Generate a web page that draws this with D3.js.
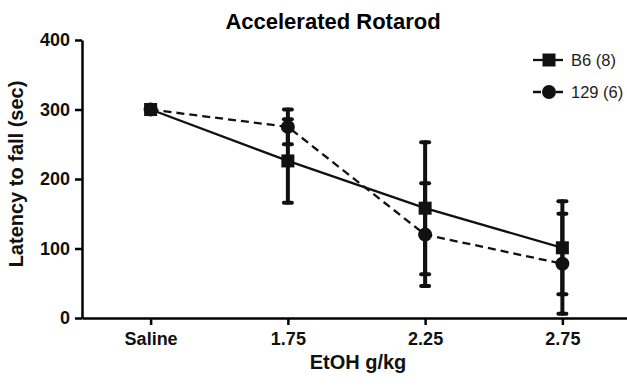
<!DOCTYPE html>
<html>
<head>
<meta charset="utf-8">
<script src="https://cdn.jsdelivr.net/npm/d3@7"></script>
<style>
  body { margin: 0; background: #fff; }
  svg { display: block; font-family: "Liberation Sans", Arial, sans-serif; }
</style>
</head>
<body>
<svg></svg>
<script>
// dose groups on the x axis
let categories = ["Saline", "1.75", "2.25", "2.75"]
let yTicks = [0, 100, 200, 300, 400]

// B6 (8) - mean latency and error
let b6Mean = [300, 226, 158, 101]
let b6Err = [0, 60, 95, 67]

// 129 (6) - mean latency and error
let s129Mean = [300, 275, 120, 78]
let s129Err = [0, 25, 74, 72]

let seriesNames = ["B6 (8)", "129 (6)"]

let svgWidth = 627, svgHeight = 386
let svg = d3.select("svg")
  .attr("width", svgWidth)
  .attr("height", svgHeight)

let x = d3.scalePoint().domain(categories).range([82, 631]).padding(0.5)
let y = d3.scaleLinear().domain([0, 400]).range([318, 40])

// title
svg.append("text")
  .attr("x", 333)
  .attr("y", 29)
  .attr("text-anchor", "middle")
  .attr("font-size", 22)
  .attr("font-weight", "bold")
  .text("Accelerated Rotarod")

// x axis
let xAxis = svg.append("g")
  .attr("transform", "translate(0," + y(0) + ")")
  .call(d3.axisBottom(x).tickSize(7).tickSizeOuter(0).tickPadding(7))
xAxis.select(".domain").attr("stroke-width", 2.5)
xAxis.selectAll(".tick line").attr("stroke-width", 2.5)
xAxis.selectAll("text")
  .attr("font-size", 18)
  .attr("font-weight", "bold")
  .attr("font-family", "Liberation Sans, Arial, sans-serif")
  .attr("fill", "#111")

// y axis
let yAxis = svg.append("g")
  .attr("transform", "translate(" + x.range()[0] + ",0)")
  .call(d3.axisLeft(y).tickValues(yTicks).tickSize(7).tickSizeOuter(0).tickPadding(5))
yAxis.select(".domain").attr("stroke-width", 2.5)
yAxis.selectAll(".tick line").attr("stroke-width", 2.5)
yAxis.selectAll("text")
  .attr("font-size", 18)
  .attr("font-weight", "bold")
  .attr("font-family", "Liberation Sans, Arial, sans-serif")
  .attr("fill", "#111")

// axis titles
svg.append("text")
  .attr("x", 358)
  .attr("y", 369)
  .attr("text-anchor", "middle")
  .attr("font-size", 20)
  .attr("font-weight", "bold")
  .attr("fill", "#111")
  .text("EtOH g/kg")

svg.append("text")
  .attr("transform", "translate(23,174) rotate(-90)")
  .attr("text-anchor", "middle")
  .attr("font-size", 20)
  .attr("font-weight", "bold")
  .attr("fill", "#111")
  .text("Latency to fall (sec)")

let line = d3.line()
  .x(function(d, i) { return x(categories[i]) })
  .y(function(d) { return y(d) })

// 129 dashed line, B6 solid line
svg.append("path")
  .datum(s129Mean)
  .attr("fill", "none")
  .attr("stroke", "#111")
  .attr("stroke-width", 2.3)
  .attr("stroke-dasharray", "8,5")
  .attr("d", line)

svg.append("path")
  .datum(b6Mean)
  .attr("fill", "none")
  .attr("stroke", "#111")
  .attr("stroke-width", 2.3)
  .attr("d", line)

// error bars
function errorBars(means, errs) {
  let g = svg.append("g")
    .attr("stroke", "#111")
    .attr("stroke-linecap", "round")
  means.forEach(function(m, i) {
    let cx = x(categories[i])
    g.append("line")
      .attr("x1", cx).attr("x2", cx)
      .attr("y1", y(m - errs[i])).attr("y2", y(m + errs[i]))
      .attr("stroke-width", 4)
    ;[m - errs[i], m + errs[i]].forEach(function(v) {
      g.append("line")
        .attr("x1", cx - 4).attr("x2", cx + 4)
        .attr("y1", y(v)).attr("y2", y(v))
        .attr("stroke-width", 4)
    })
  })
}
errorBars(s129Mean, s129Err)
errorBars(b6Mean, b6Err)

// markers
svg.append("g").selectAll("circle")
  .data(s129Mean)
  .enter().append("circle")
  .attr("cx", function(d, i) { return x(categories[i]) })
  .attr("cy", function(d) { return y(d) })
  .attr("r", 7)
  .attr("fill", "#111")

svg.append("g").selectAll("rect")
  .data(b6Mean)
  .enter().append("rect")
  .attr("x", function(d, i) { return x(categories[i]) - 6.5 })
  .attr("y", function(d) { return y(d) - 6.5 })
  .attr("width", 13)
  .attr("height", 13)
  .attr("fill", "#111")

// legend
let legend = svg.append("g")
seriesNames.forEach(function(name, i) {
  let ly = 60 + i * 32
  legend.append("line")
    .attr("x1", 533).attr("x2", 563)
    .attr("y1", ly).attr("y2", ly)
    .attr("stroke", "#111")
    .attr("stroke-width", 2.3)
    .attr("stroke-dasharray", i == 1 ? "8,6,3,6" : null)
  if (i == 0) {
    legend.append("rect")
      .attr("x", 542.5).attr("y", ly - 6.5)
      .attr("width", 13).attr("height", 13)
      .attr("fill", "#111")
  } else {
    legend.append("circle")
      .attr("cx", 549).attr("cy", ly)
      .attr("r", 7)
      .attr("fill", "#111")
  }
  legend.append("text")
    .attr("x", 571)
    .attr("y", ly + 6)
    .attr("font-size", 16.5)
    .attr("fill", "#222")
    .text(name)
})
</script>
</body>
</html>
